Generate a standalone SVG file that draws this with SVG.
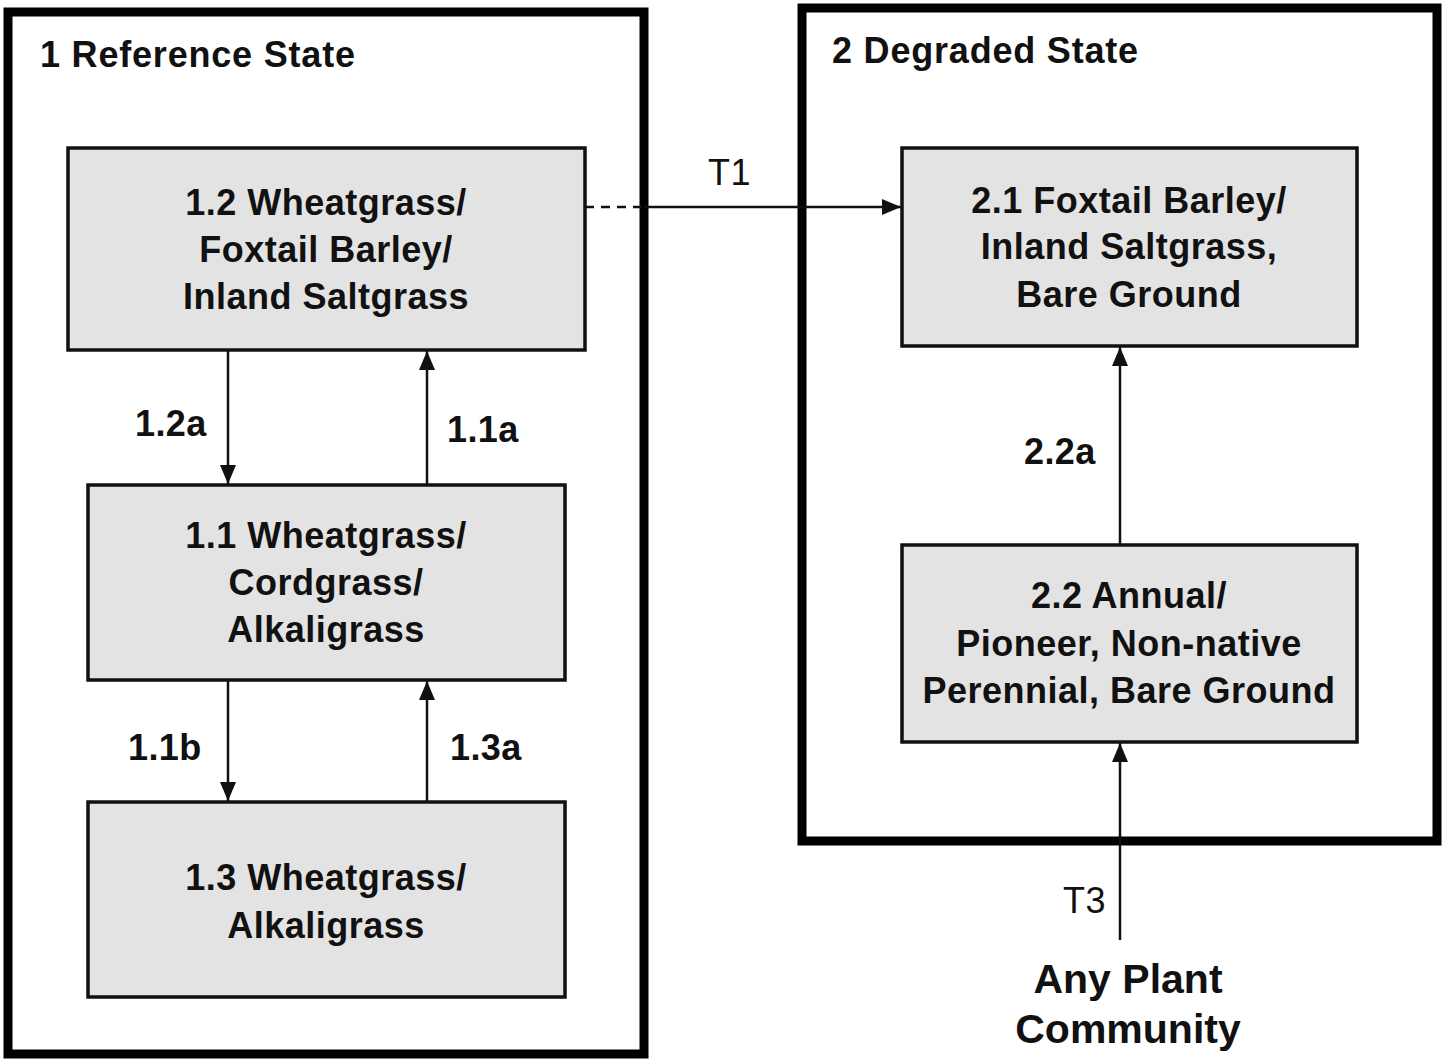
<svg xmlns="http://www.w3.org/2000/svg" width="1447" height="1059" viewBox="0 0 1447 1059">
<style>
.bg{fill:#ffffff}
.state{fill:none;stroke:#000;stroke-width:9}
.node rect{fill:#e3e3e3;stroke:#111;stroke-width:3.5}
text{font-family:"Liberation Sans",Arial,Helvetica,sans-serif;fill:#111}
.nt{font-size:36px;font-weight:bold;text-anchor:middle;letter-spacing:0.5px}
.title{font-size:36px;font-weight:bold;letter-spacing:0.8px}
.lbl{font-size:36px;font-weight:bold;letter-spacing:0.4px}
.tl{font-size:36px;letter-spacing:0.4px}
.big{font-size:41px;font-weight:bold;text-anchor:middle}
.conn line{stroke:#111;stroke-width:2.5;fill:none}
</style>
<defs>
<marker id="ah" markerUnits="userSpaceOnUse" markerWidth="19" markerHeight="16" refX="19" refY="8" orient="auto">
<path d="M0,0 L19,8 L0,16 z" fill="#111"/>
</marker>
</defs>
<rect class="bg" x="0" y="0" width="1447" height="1059"/>

<g id="state1">
<rect class="state" x="8" y="12" width="636" height="1042"/>
<text class="title" x="40" y="67">1 Reference State</text>
</g>
<g id="state2">
<rect class="state" x="802" y="8" width="635" height="833"/>
<text class="title" x="832" y="63">2 Degraded State</text>
</g>

<g id="connectors" class="conn">
<line x1="228" y1="350" x2="228" y2="484" marker-end="url(#ah)"/>
<line x1="427" y1="485" x2="427" y2="351" marker-end="url(#ah)"/>
<line x1="228" y1="680" x2="228" y2="801" marker-end="url(#ah)"/>
<line x1="427" y1="802" x2="427" y2="681" marker-end="url(#ah)"/>
<line x1="585" y1="207" x2="644" y2="207" stroke-dasharray="9,7"/>
<line x1="644" y1="207" x2="901" y2="207" marker-end="url(#ah)"/>
<line x1="1120" y1="545" x2="1120" y2="347" marker-end="url(#ah)"/>
<line x1="1120" y1="940" x2="1120" y2="743" marker-end="url(#ah)"/>
<text class="lbl" x="135" y="436">1.2a</text>
<text class="lbl" x="447" y="442">1.1a</text>
<text class="lbl" x="128" y="760">1.1b</text>
<text class="lbl" x="450" y="760">1.3a</text>
<text class="tl" x="708" y="185">T1</text>
<text class="lbl" x="1024" y="464">2.2a</text>
<text class="tl" x="1063" y="913">T3</text>
</g>

<g id="n12" class="node">
<rect x="68" y="148" width="517" height="202"/>
<text class="nt" x="326" y="215">1.2 Wheatgrass/</text>
<text class="nt" x="326" y="262">Foxtail Barley/</text>
<text class="nt" x="326" y="309">Inland Saltgrass</text>
</g>
<g id="n11" class="node">
<rect x="88" y="485" width="477" height="195"/>
<text class="nt" x="326" y="548">1.1 Wheatgrass/</text>
<text class="nt" x="326" y="595">Cordgrass/</text>
<text class="nt" x="326" y="642">Alkaligrass</text>
</g>
<g id="n13" class="node">
<rect x="88" y="802" width="477" height="195"/>
<text class="nt" x="326" y="890">1.3 Wheatgrass/</text>
<text class="nt" x="326" y="938">Alkaligrass</text>
</g>
<g id="n21" class="node">
<rect x="902" y="148" width="455" height="198"/>
<text class="nt" x="1129" y="213">2.1 Foxtail Barley/</text>
<text class="nt" x="1129" y="259">Inland Saltgrass,</text>
<text class="nt" x="1129" y="307">Bare Ground</text>
</g>
<g id="n22" class="node">
<rect x="902" y="545" width="455" height="197"/>
<text class="nt" x="1129" y="608">2.2 Annual/</text>
<text class="nt" x="1129" y="656">Pioneer, Non-native</text>
<text class="nt" x="1129" y="703">Perennial, Bare Ground</text>
</g>
<g id="any">
<text class="big" x="1128" y="993">Any Plant</text>
<text class="big" x="1128" y="1043">Community</text>
</g>
</svg>
